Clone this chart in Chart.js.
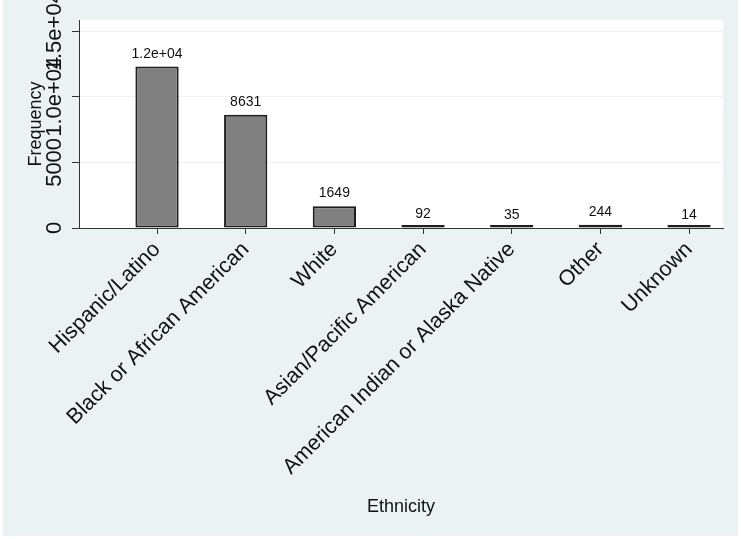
<!DOCTYPE html>
<html>
<head>
<meta charset="utf-8">
<script src="https://cdn.jsdelivr.net/npm/chart.js@4"></script>
<style>
  html, body { margin: 0; padding: 0; background: #fff; }
  #wrap { position: absolute; left: 3px; top: 0; width: 735px; height: 536px; background: rgb(234,242,243); }
</style>
</head>
<body>
<div id="wrap"><canvas id="myChart" width="735" height="536"></canvas></div>
<script>
// ------------------------------------------------------------
// Data
// ------------------------------------------------------------
const categories = [
    'Hispanic/Latino',
    'Black or African American',
    'White',
    'Asian/Pacific American',
    'American Indian or Alaska Native',
    'Other',
    'Unknown'
]
const frequencies = [12300, 8631, 1649, 92, 35, 244, 14]

const yTickValues = [0, 5000, 10000, 15000]
const yTickLabels = ['0', '5000', '1.0e+04', '1.5e+04']

const FONT = 'Liberation Sans, Arial, Helvetica, sans-serif'
const TEXT = '#111'

// stata-ish label format
function fmt(v) {
    if (v >= 10000) return v.toExponential(1).replace(/e\+(\d)$/, 'e+0$1')
    return String(v)
}

// white plot region
const plotBg = {
    id: 'plotBg',
    beforeDraw(chart) {
        const { ctx, chartArea: a } = chart
        ctx.save()
        ctx.fillStyle = '#fff'
        ctx.fillRect(a.left, a.top, a.right - a.left, a.bottom - a.top)
        ctx.restore()
    }
}

// bar value labels
const barLabels = {
    id: 'barLabels',
    afterDatasetsDraw(chart) {
        const { ctx } = chart
        const y = chart.scales.y
        const meta = chart.getDatasetMeta(0)
        ctx.save()
        ctx.font = '14px ' + FONT
        ctx.fillStyle = TEXT
        ctx.textAlign = 'center'
        ctx.textBaseline = 'alphabetic'
        meta.data.forEach((bar, i) => {
            ctx.fillText(fmt(frequencies[i]), bar.x, y.getPixelForValue(frequencies[i]) - 9)
        })
        ctx.restore()
    }
}

// vertical y tick labels (they overlap in the original)
const yLabels = {
    id: 'yLabels',
    afterDraw(chart) {
        const { ctx } = chart
        const y = chart.scales.y
        ctx.save()
        ctx.font = '22px ' + FONT
        ctx.fillStyle = TEXT
        ctx.textAlign = 'center'
        ctx.textBaseline = 'middle'
        yTickValues.forEach((v, i) => {
            ctx.save()
            ctx.translate(52, y.getPixelForValue(v))
            ctx.rotate(-Math.PI / 2)
            ctx.fillText(yTickLabels[i], 0, 0)
            ctx.restore()
        })
        ctx.restore()
    }
}

const data = {
    datasets: [
        {
            label: 'Frequency',
            data: frequencies.map((v, i) => ({ x: i, y: v })),
            backgroundColor: 'rgb(128,128,128)',
            borderColor: '#1e1e1e',
            borderWidth: 2,
            borderSkipped: false,
            inflateAmount: 0,
            minBarLength: 3,
            barPercentage: 0.488,
            categoryPercentage: 1
        }
    ]
}

const config = {
    type: 'bar',
    data: data,
    plugins: [plotBg, barLabels, yLabels],
    options: {
        responsive: false,
        animation: false,
        devicePixelRatio: 1,
        layout: { padding: { top: 20, right: 15, left: 0, bottom: 0 } },
        plugins: {
            legend: { display: false },
            tooltip: { enabled: false }
        },
        scales: {
            x: {
                type: 'linear',
                offset: false,
                min: -0.88,
                max: 6.383,
                afterBuildTicks: (s) => { s.ticks = categories.map((c, i) => ({ value: i })) },
                afterFit: (s) => { s.height = 308; s.paddingLeft = 0; s.paddingRight = 0 },
                grid: {
                    offset: false,
                    drawOnChartArea: false,
                    drawTicks: true,
                    tickLength: 6,
                    tickColor: '#333',
                    tickWidth: 1
                },
                border: { color: '#333', width: 1 },
                ticks: {
                    autoSkip: false,
                    minRotation: 45,
                    maxRotation: 45,
                    padding: 3,
                    color: TEXT,
                    font: { family: FONT, size: 21.5 },
                    callback: (v) => categories[v]
                },
                title: {
                    display: true,
                    text: 'Ethnicity',
                    color: TEXT,
                    font: { family: FONT, size: 18 },
                    padding: { top: 0, bottom: 18 }
                }
            },
            y: {
                min: 0,
                max: 15850,
                afterBuildTicks: (s) => { s.ticks = yTickValues.map(v => ({ value: v })) },
                afterFit: (s) => { s.width = 76; s.paddingTop = 0; s.paddingBottom = 0 },
                grid: {
                    color: 'rgb(234,242,243)',
                    lineWidth: 1,
                    drawTicks: true,
                    tickLength: 7,
                    tickColor: '#333',
                    tickWidth: 1
                },
                border: { color: '#333', width: 1 },
                ticks: { display: false },
                title: {
                    display: true,
                    text: 'Frequency',
                    color: TEXT,
                    font: { family: FONT, size: 18 },
                    padding: { top: 22, bottom: 0 }
                }
            }
        }
    }
}

const myChart = new Chart(
    document.getElementById('myChart'),
    config
)
</script>
</body>
</html>
